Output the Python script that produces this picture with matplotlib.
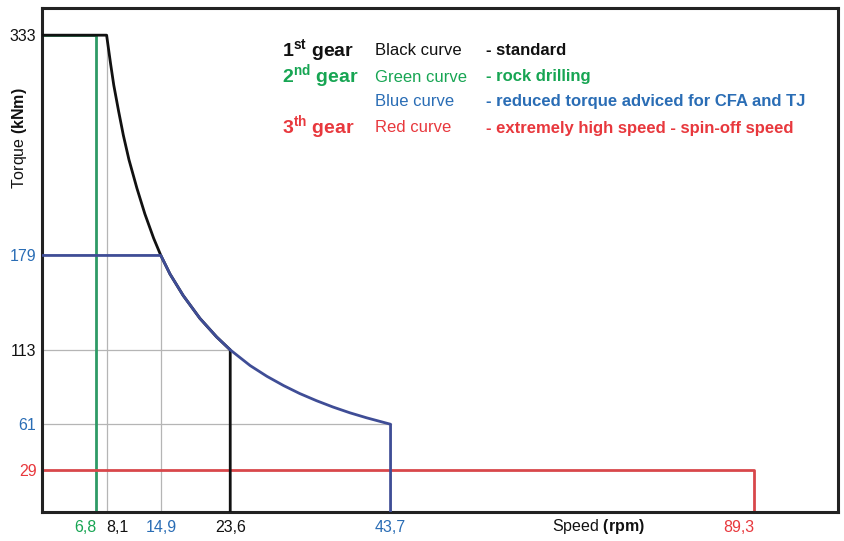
import matplotlib.pyplot as plt

plt.rcParams['font.family'] = ['Liberation Sans', 'DejaVu Sans']
plt.rcParams['mathtext.fontset'] = 'custom'
plt.rcParams['mathtext.rm'] = 'Liberation Sans'
plt.rcParams['mathtext.bf'] = 'Liberation Sans:bold'

# axis ticks
speed_ticks = [6.8, 8.1, 14.9, 23.6, 43.7, 89.3]
speed_labels = ["6,8", "8,1", "14,9", "23,6", "43,7", "89,3"]
torque_ticks = [29, 61, 113, 179, 333]
torque_labels = ["29", "61", "113", "179", "333"]

# 1st gear (black)
black_speed = [0, 8.1, 8.6, 9.0, 9.6, 10.2, 10.9, 11.9, 12.9, 14.0, 14.9,
               16.05, 17.7, 19.8, 21.9, 23.6, 23.6]
black_torque = [333, 333, 313, 298, 280, 263, 246, 226, 208, 191, 179,
                166, 151, 135, 122, 113, 0]
# 2nd gear, green curve
green_speed = [0, 6.8, 6.8]
green_torque = [333, 333, 0]
# 2nd gear, blue curve
blue_speed = [0, 14.9, 16.05, 17.7, 19.8, 21.9, 23.6, 26.1, 28.2, 30.3, 32.3,
              34.4, 36.5, 38.6, 40.7, 43.7, 43.7]
blue_torque = [179, 179, 166, 151, 135, 122, 113, 102, 94.5, 88, 82.5,
               77.5, 73, 69, 65.5, 61, 0]
# 3rd gear (red)
red_speed = [0, 89.3, 89.3]
red_torque = [29, 29, 0]

# grey drop lines
grid_x = [8.1, 14.9]
grid_x_top = [333, 179]
grid_y = [113, 61]
grid_y_end = [23.6, 43.7]

BLACK = "#111111"
GREEN_LINE = "#2e9a66"
BLUE_LINE = "#3f4d96"
RED_LINE = "#d8474b"
GREEN_TXT = "#17a553"
BLUE_TXT = "#2a6db5"
RED_TXT = "#e8383d"

fig = plt.figure(figsize=(8.44, 5.41), dpi=100)
ax = fig.add_axes([42 / 844, 1 - 511.5 / 541, 796 / 844, 503.5 / 541])

for x, top in zip(grid_x, grid_x_top):
    ax.plot([x, x], [0, top], color="#b5b5b5", lw=0.9, zorder=1)
for y, end in zip(grid_y, grid_y_end):
    ax.plot([0, end], [y, y], color="#b5b5b5", lw=0.9, zorder=1)

ax.plot(black_speed, black_torque, color=BLACK, lw=2.0, zorder=3, solid_joinstyle='round')
ax.plot(blue_speed, blue_torque, color=BLUE_LINE, lw=2.0, zorder=4, solid_joinstyle='round')
ax.plot(green_speed, green_torque, color=GREEN_LINE, lw=2.0, zorder=2)
ax.plot(red_speed, red_torque, color=RED_LINE, lw=2.0, zorder=2)

ax.set_xlim(0, 99.8)
ax.set_ylim(0, 352)

ax.set_xticks(speed_ticks)
ax.set_xticklabels(speed_labels, fontsize=11.5)
ax.set_yticks(torque_ticks)
ax.set_yticklabels(torque_labels, fontsize=11.5)
ax.tick_params(length=0, pad=6)
ax.tick_params(axis='y', pad=4)

x_colors = [GREEN_TXT, BLACK, BLUE_TXT, BLACK, BLUE_TXT, RED_TXT]
x_align = ['right', 'left', 'center', 'center', 'center', 'right']
for lab, c, ha in zip(ax.get_xticklabels(), x_colors, x_align):
    lab.set_color(c)
    lab.set_ha(ha)
y_colors = [RED_TXT, BLUE_TXT, BLACK, BLUE_TXT, BLACK]
for lab, c in zip(ax.get_yticklabels(), y_colors):
    lab.set_color(c)

for s in ax.spines.values():
    s.set_linewidth(2.2)
    s.set_color("#222222")

# axis titles
fig.text(552 / 844, 1 - 527 / 541, "Speed $\\mathbf{(rpm)}$", fontsize=11.5,
         ha='left', va='center', color=BLACK)
fig.text(20 / 844, 1 - 138 / 541, "Torque $\\mathbf{(kNm)}$", fontsize=11.5,
         ha='center', va='center', rotation=90, color=BLACK)

# legend block
rows_y = [50.5, 77, 101.5, 128]
gear_txt = ["1$^{\\mathbf{st}}$ gear", "2$^{\\mathbf{nd}}$ gear", "", "3$^{\\mathbf{th}}$ gear"]
gear_col = [BLACK, GREEN_TXT, BLUE_TXT, RED_TXT]
curve_txt = ["Black curve", "Green curve", "Blue curve", "Red curve"]
desc_txt = ["- standard", "- rock drilling",
            "- reduced torque adviced for CFA and TJ",
            "- extremely high speed - spin-off speed"]
for y, g, c, cv, d in zip(rows_y, gear_txt, gear_col, curve_txt, desc_txt):
    yf = 1 - y / 541
    if g:
        fig.text(282 / 844, yf, g, fontsize=14, fontweight='bold', color=c,
                 ha='left', va='center')
    fig.text(375 / 844, yf, cv, fontsize=12, color=c, ha='left', va='center')
    fig.text(486 / 844, yf, d, fontsize=12, fontweight='bold', color=c,
             ha='left', va='center')

fig.savefig("out.png", dpi=100)
